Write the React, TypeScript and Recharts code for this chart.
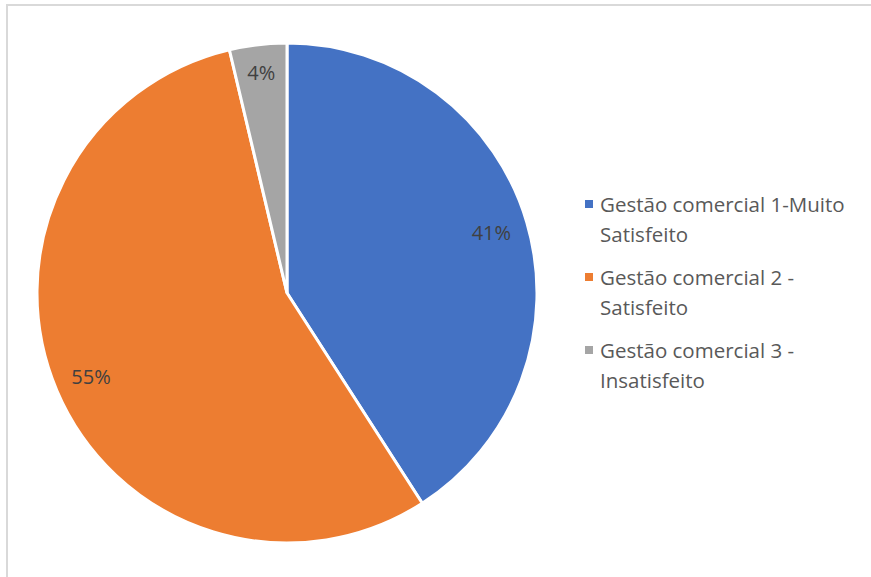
import React from "react";
import { PieChart, Pie, Cell, Legend } from "recharts";

const categories = [
  "Gestão comercial 1-Muito Satisfeito",
  "Gestão comercial 2 - Satisfeito",
  "Gestão comercial 3 - Insatisfeito",
];
const legendLines = [
  ["Gestão comercial 1-Muito", "Satisfeito"],
  ["Gestão comercial 2 -", "Satisfeito"],
  ["Gestão comercial 3 -", "Insatisfeito"],
];
const values = [40.9, 55.4, 3.7];
const colors = ["#4472C4", "#ED7D31", "#A5A5A5"];

const data = categories.map((name, i) => ({ name, value: values[i] }));

const RAD = Math.PI / 180;
const FONT = "'Open Sans', sans-serif";

const renderLabel = (props: any) => {
  const { cx, cy, midAngle, percent } = props;
  const r = percent < 0.1 ? 222 : 213;
  const x = cx + r * Math.cos(-midAngle * RAD);
  const y = cy + r * Math.sin(-midAngle * RAD);
  return (
    <text
      x={x}
      y={y}
      fill="#404040"
      fontSize={20}
      fontFamily={FONT}
      textAnchor="middle"
      dominantBaseline="central"
    >
      {`${Math.round(percent * 100)}%`}
    </text>
  );
};

const renderLegend = () => (
  <div style={{ fontFamily: FONT, fontSize: 20.5, color: "#595959" }}>
    {legendLines.map((lines, i) => (
      <div key={i} style={{ position: "relative", paddingLeft: 15, marginBottom: 13, lineHeight: "30px" }}>
        <span
          style={{
            position: "absolute",
            left: 0,
            top: 11,
            width: 8,
            height: 8,
            background: colors[i],
          }}
        />
        {lines.map((l, j) => (
          <div key={j} style={{ whiteSpace: "nowrap" }}>{l}</div>
        ))}
      </div>
    ))}
  </div>
);

export default function App() {
  return (
    <div style={{ position: "absolute", left: 0, top: 0, width: 871, height: 577, overflow: "hidden", background: "#fff" }}>
      <div
        style={{
          position: "absolute",
          left: 6,
          top: 4,
          width: 900,
          height: 600,
          border: "2px solid #d9d9d9",
          boxSizing: "border-box",
        }}
      />
      <div style={{ position: "absolute", left: 0, top: 0 }}>
        <PieChart width={871} height={577} margin={{ top: 0, right: 0, bottom: 0, left: 0 }}>
          <Pie
            data={data}
            dataKey="value"
            nameKey="name"
            cx={287}
            cy={293}
            outerRadius={250}
            startAngle={90}
            endAngle={-270}
            stroke="#ffffff"
            strokeWidth={3}
            label={renderLabel}
            labelLine={false}
            isAnimationActive={false}
          >
            {data.map((d, i) => (
              <Cell key={d.name} fill={colors[i]} />
            ))}
          </Pie>
          <Legend
            content={renderLegend}
            layout="vertical"
            verticalAlign="top"
            align="right"
            wrapperStyle={{ position: "absolute", left: 585, top: 189, width: 285 }}
          />
        </PieChart>
      </div>
    </div>
  );
}
